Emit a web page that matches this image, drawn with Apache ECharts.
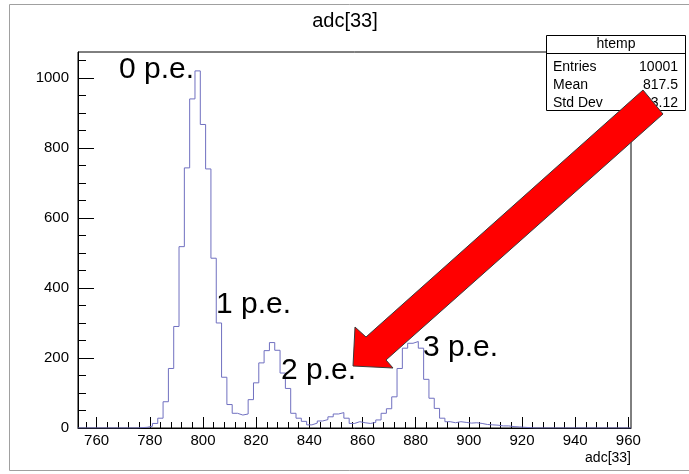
<!DOCTYPE html>
<html><head><meta charset="utf-8">
<script src="https://cdn.jsdelivr.net/npm/echarts@6/dist/echarts.min.js"></script>
<style>html,body{margin:0;padding:0;background:#fff}#c{width:689px;height:474px}</style>
</head><body><div id="c"></div>
<script>
// ---- data ----
const chartTitle = 'adc[33]';
const xAxisTitle = 'adc[33]';
const histName = 'htemp';
const xMin = 753, xMax = 961, binWidth = 2;
const yMin = 0, yMax = 1074;
const binCounts = [
  0,0,0,0,0,0,0,0,0,0,
  0,1,2,5,13,28,75,170,290,518,
  743,940,1020,867,740,485,300,145,67,42,
  37,40,81,129,186,221,244,222,157,113,
  42,28,19,9,14,20,24,32,40,44,
  28,13,18,15,13,16,23,42,55,89,
  170,228,242,247,228,139,85,56,28,18,
  15,18,16,14,15,13,10,9,8,6,
  6,4,3,2,1,0,0,0,0,0,
  0,0,0,0,0,0,0,0,0,0,
  0,0,0,0
];
const xMajorTicks = [760,780,800,820,840,860,880,900,920,940,960];
const xMinorTicks = [756,764,768,772,776,784,788,792,796,804,808,812,816,824,828,832,836,
  844,848,852,856,864,868,872,876,884,888,892,896,904,908,912,916,924,928,932,936,
  944,948,952,956];
const yMajorTicks = [0,200,400,600,800,1000];
const yMinorTicks = [50,100,150,250,300,350,450,500,550,650,700,750,850,900,950,1050];
const peLabels = ['0 p.e.','1 p.e.','2 p.e.','3 p.e.'];
const statsNames = ['Entries','Mean','Std Dev'];
const statsValues = ['10001','817.5','33.12'];

// ---- build ----
const FONT = "'Liberation Sans', Arial, Helvetica, sans-serif";
const histData = binCounts.map((c, i) => [xMin + i * binWidth, c]);
histData.push([xMax, binCounts[binCounts.length - 1]]);

const chart = echarts.init(document.getElementById('c'), null, {renderer: 'canvas'});

const peText = (txt, x, y) => ({
  type: 'text', z: 50,
  style: {text: txt, x: x, y: y, fill: '#000', font: '30px ' + FONT, align: 'left', verticalAlign: 'middle'}
});

const statsRows = [];
const rowY = [67, 85, 103];
statsNames.forEach((n, i) => {
  statsRows.push({type: 'text', z: 61, style: {text: n, x: 553, y: rowY[i], fill: '#000', font: '14px ' + FONT, align: 'left', verticalAlign: 'middle'}});
  statsRows.push({type: 'text', z: 61, style: {text: statsValues[i], x: 678, y: rowY[i], fill: '#000', font: '14px ' + FONT, align: 'right', verticalAlign: 'middle'}});
});

const axisCommon = {type: 'value', splitLine: {show: false}};
const plainLabel = v => String(v);

chart.setOption({
  animation: false,
  backgroundColor: '#fff',
  grid: {left: 78, top: 52, width: 553, height: 376, show: true, borderColor: '#000', borderWidth: 1, containLabel: false},
  xAxis: [
    Object.assign({}, axisCommon, {
      min: xMin, max: xMax, position: 'bottom',
      axisLine: {show: true, onZero: false, lineStyle: {color: '#000', width: 1}},
      axisTick: {show: true, inside: true, length: 11, customValues: xMajorTicks, lineStyle: {color: '#000', width: 1}},
      axisLabel: {customValues: xMajorTicks, formatter: plainLabel, color: '#000', fontFamily: FONT, fontSize: 15, margin: 5}
    }),
    Object.assign({}, axisCommon, {
      min: xMin, max: xMax, position: 'bottom',
      axisLine: {show: false},
      axisTick: {show: true, inside: true, length: 6, customValues: xMinorTicks, lineStyle: {color: '#000', width: 1}},
      axisLabel: {show: false}
    })
  ],
  yAxis: [
    Object.assign({}, axisCommon, {
      min: yMin, max: yMax, position: 'left',
      axisLine: {show: true, onZero: false, lineStyle: {color: '#000', width: 1}},
      axisTick: {show: true, inside: true, length: 16, customValues: yMajorTicks, lineStyle: {color: '#000', width: 1}},
      axisLabel: {customValues: yMajorTicks, formatter: plainLabel, color: '#000', fontFamily: FONT, fontSize: 15, margin: 9}
    }),
    Object.assign({}, axisCommon, {
      min: yMin, max: yMax, position: 'left',
      axisLine: {show: false},
      axisTick: {show: true, inside: true, length: 8, customValues: yMinorTicks, lineStyle: {color: '#000', width: 1}},
      axisLabel: {show: false}
    })
  ],
  series: [{
    name: histName,
    type: 'line',
    step: 'end',
    xAxisIndex: 0, yAxisIndex: 0,
    data: histData,
    showSymbol: false,
    symbol: 'none',
    lineStyle: {color: '#7070c0', width: 1},
    clip: true,
    z: 5
  }],
  graphic: [
    {type: 'rect', z: 1, silent: true, shape: {x: 9.5, y: 4.5, width: 700, height: 466}, style: {fill: 'none', stroke: '#a0a0a0', lineWidth: 1}},
    {type: 'text', z: 50, style: {text: chartTitle, x: 345, y: 21, fill: '#000', font: '20px ' + FONT, align: 'center', verticalAlign: 'middle'}},
    {type: 'text', z: 50, style: {text: xAxisTitle, x: 631, y: 458, fill: '#000', font: '14px ' + FONT, align: 'right', verticalAlign: 'middle'}},
    peText(peLabels[0], 119, 69.5),
    peText(peLabels[1], 216, 305),
    peText(peLabels[2], 281, 371),
    peText(peLabels[3], 423, 347.5),
    // stats box
    {type: 'rect', z: 60, shape: {x: 546.5, y: 35.5, width: 139, height: 75}, style: {fill: '#fff', stroke: '#000', lineWidth: 1}},
    {type: 'line', z: 61, shape: {x1: 546.5, y1: 53.5, x2: 685.5, y2: 53.5}, style: {stroke: '#000', lineWidth: 1}},
    {type: 'text', z: 61, style: {text: histName, x: 616, y: 44.5, fill: '#000', font: '14px ' + FONT, align: 'center', verticalAlign: 'middle'}}
  ].concat(statsRows).concat([
    // arrow annotation
    {type: 'polygon', z: 80, shape: {points: [[353,366],[355,327],[366,337],[643,90],[663,114],[386,360],[393,368]]},
     style: {fill: '#ff0000', stroke: '#3a3a3a', lineWidth: 1}}
  ])
});
</script>
</body></html>
